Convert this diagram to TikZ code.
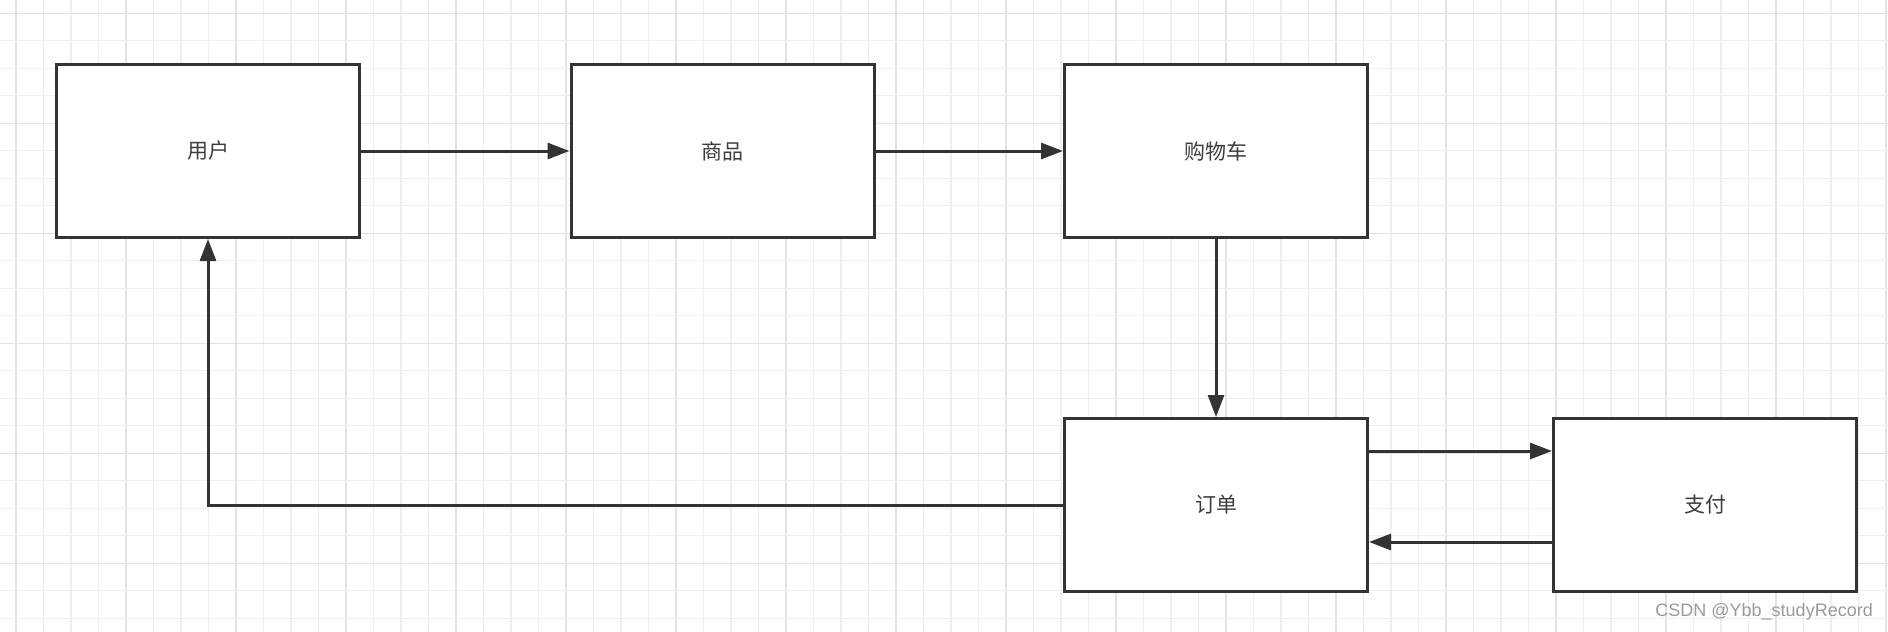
\documentclass[tikz,border=0pt]{standalone}
\usepackage{fontspec}
\newfontfamily\cjk{Noto Sans CJK SC}
\newfontfamily\wmfont{Liberation Sans}
\usetikzlibrary{arrows.meta}
\definecolor{ink}{HTML}{333333}
\definecolor{gridminor}{HTML}{EFEFEF}
\definecolor{gridmajor}{HTML}{E2E2E2}
\definecolor{wmgray}{HTML}{9A9A9A}
\begin{document}
\begin{tikzpicture}[x=1pt,y=-1pt,
  box/.style={draw=ink,line width=3pt,fill=white,minimum width=303pt,minimum height=173pt,inner sep=0pt,
    font=\cjk\fontsize{21}{25}\selectfont,text=ink!95},
  conn/.style={draw=ink,line width=3pt,-{Triangle[length=22pt,width=16pt]}},
  minorline/.style={draw=gridminor,line width=1.3pt},
  majorline/.style={draw=gridmajor,line width=1.6pt}]
\useasboundingbox (0,0) rectangle (1888,632);
\fill[white] (0,0) rectangle (1888,632);
% grid
\foreach \i in {0,...,68}{
  \pgfmathsetmacro{\gx}{16+27.5*\i}
  \pgfmathtruncatemacro{\m}{mod(\i,4)}
  \ifnum\m=0 \draw[majorline] (\gx,0) -- (\gx,632);
  \else \draw[minorline] (\gx,0) -- (\gx,632); \fi
}
\foreach \j in {0,...,22}{
  \pgfmathsetmacro{\gy}{13.3+27.5*\j}
  \pgfmathtruncatemacro{\m}{mod(\j,4)}
  \ifnum\m=0 \draw[majorline] (0,\gy) -- (1888,\gy);
  \else \draw[minorline] (0,\gy) -- (1888,\gy); \fi
}
% boxes
\node[box] (user)  at (208,151)  {用户};
\node[box] (goods) at (722.5,151) {商品};
\node[box] (cart)  at (1216,151) {购物车};
\node[box] (order) at (1216,505) {订单};
\node[box] (pay)   at (1705,505) {支付};
% connectors
\draw[conn] (user.east) -- (goods.west);
\draw[conn] (goods.east) -- (cart.west);
\draw[conn] (cart.south) -- (order.north);
\draw[conn] ([yshift=54pt]order.east) -- ([yshift=54pt]pay.west);
\draw[conn] ([yshift=-37pt]pay.west) -- ([yshift=-37pt]order.east);
\draw[conn] (order.west) -| (user.south);
% watermark
\node[anchor=east,inner sep=0pt,text=wmgray,font=\wmfont\fontsize{18}{20}\selectfont] (wm) at (1873,612) {CSDN @Ybb\_studyRecord};
\end{tikzpicture}
\end{document}
